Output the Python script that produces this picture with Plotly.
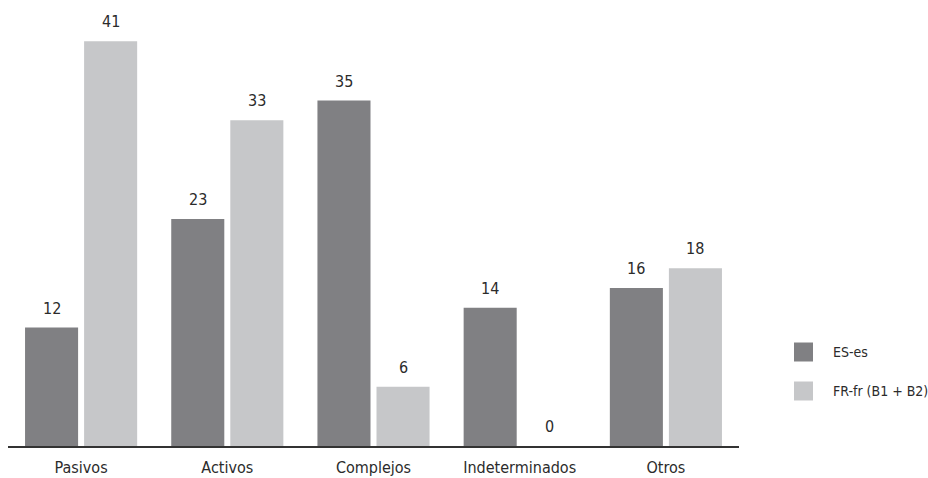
import plotly.graph_objects as go

categories = ["Pasivos", "Activos", "Complejos", "Indeterminados", "Otros"]
series_names = ["ES-es", "FR-fr (B1 + B2)"]
es_values = [12, 23, 35, 14, 16]
fr_values = [41, 33, 6, 0, 18]
colors = ["#808083", "#c6c7c9"]

FONT = "DejaVu Sans Condensed, Liberation Sans Narrow, Roboto, sans-serif"
TXT = "#2b2b2b"

fig = go.Figure()
for name, vals, col in zip(series_names, [es_values, fr_values], colors):
    fig.add_trace(go.Bar(x=categories, y=vals, name=name, marker_color=col,
                         marker_line_width=0, showlegend=False))

# value labels
for i, (vals, shift) in enumerate([(es_values, -29.5), (fr_values, 29.5)]):
    for c, v in zip(categories, vals):
        fig.add_annotation(x=c, y=v, text=str(v), xref="x", yref="y",
                           xshift=shift, yshift=8, yanchor="bottom", showarrow=False,
                           font=dict(family=FONT, size=16, color=TXT))

# legend (manual)
leg_y = [352, 391]
for name, col, yy in zip(series_names, colors, leg_y):
    fig.add_shape(type="rect", xref="paper", yref="paper",
                  x0=(794 - 8) / 731, x1=(813 - 8) / 731,
                  y0=(446 - (yy + 9.5)) / 446, y1=(446 - (yy - 9.5)) / 446,
                  fillcolor=col, line_width=0)
    fig.add_annotation(x=(831 - 8) / 731, y=(446 - yy) / 446, xref="paper", yref="paper",
                       text=name, showarrow=False, xanchor="left", yanchor="middle",
                       font=dict(family=FONT, size=14, color=TXT))

fig.update_layout(
    width=928, height=478,
    margin=dict(l=8, r=189, t=0, b=32),
    paper_bgcolor="white", plot_bgcolor="white",
    barmode="group", bargap=0.192, bargroupgap=0.1017,
    font=dict(family=FONT, size=16, color=TXT),
)
fig.update_xaxes(showline=True, linecolor="#333333", linewidth=1.5,
                 ticks="outside", ticklen=6, tickcolor="rgba(0,0,0,0)",
                 tickfont=dict(family=FONT, size=16, color=TXT), showgrid=False)
fig.update_yaxes(range=[0, 45.19], visible=False, showgrid=False)

fig.write_html("out.html")
